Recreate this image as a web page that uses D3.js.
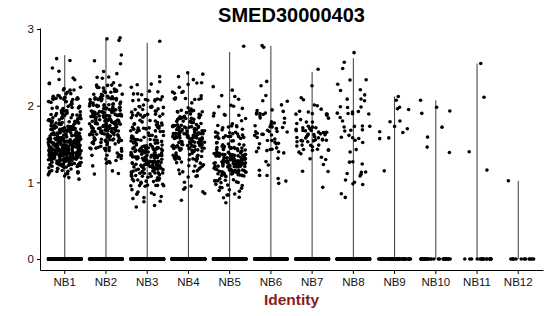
<!DOCTYPE html>
<html>
<head>
<meta charset="utf-8">
<script src="https://cdn.jsdelivr.net/npm/d3@7"></script>
<style>
  html, body { margin: 0; padding: 0; background: #fff; }
  svg { display: block; font-family: "Liberation Sans", Arial, sans-serif; }
</style>
</head>
<body>
<svg id="viz"></svg>
<script>
const WIDTH = 550;
const HEIGHT = 316;

const PANEL = { left: 40, right: 543, top: 28, bottom: 270 };

const groups = ["NB1", "NB2", "NB3", "NB4", "NB5", "NB6", "NB7", "NB8", "NB9", "NB10", "NB11", "NB12"];
const yTicks = [0, 1, 2, 3];

// top of each violin (max expression per cluster)
const groupMax = [2.66, 2.87, 2.82, 2.44, 2.70, 2.78, 2.44, 2.62, 2.12, 2.07, 2.55, 1.02];

// cells with zero expression per cluster (estimated from the band at 0)
const zeroCounts = [300, 300, 300, 300, 300, 260, 260, 260, 60, 32, 18, 12];

// dense clusters NB1..NB8: number of expressing cells per 0.1 bin, starting at binLow
const binWidth = 0.1;
const binLow = [1.0, 1.1, 0.6, 0.7, 0.7, 0.9, 0.9, 0.8];
const binCounts = [
  [4, 16, 44, 70, 76, 62, 42, 26, 20, 17, 14, 10, 7, 3, 2, 1, 1],
  [3, 6, 8, 13, 21, 28, 32, 32, 28, 22, 16, 10, 4, 2, 2, 1, 0, 3],
  [2, 3, 6, 10, 17, 24, 33, 36, 30, 20, 17, 15, 14, 12, 9, 6, 3, 2, 0, 0, 0, 0, 1],
  [1, 2, 3, 4, 7, 10, 17, 27, 34, 30, 24, 15, 10, 7, 6, 4, 2, 2],
  [2, 6, 9, 14, 28, 42, 38, 21, 14, 10, 7, 6, 4, 2, 2, 2, 0, 0, 0, 0, 1],
  [1, 4, 1, 2, 3, 6, 8, 10, 9, 6, 5, 3, 1, 1, 1, 0, 0, 0, 2],
  [1, 0, 2, 2, 4, 10, 14, 14, 8, 7, 4, 2, 1, 1, 0, 1],
  [2, 2, 3, 4, 3, 1, 1, 5, 4, 5, 4, 6, 3, 2, 2, 2, 1, 1, 1]
];

// sparse clusters NB9..NB12: [x offset in band units, expression]
const sparsePoints = [
  [[0.09, 2.12], [0.04, 2.07], [0.12, 1.98], [0.07, 1.96], [0.34, 1.95], [-0.11, 1.79], [0.13, 1.80],
   [0.00, 1.73], [0.31, 1.70], [0.20, 1.65], [-0.36, 1.66], [-0.36, 1.57], [-0.14, 1.58], [-0.25, 1.15]],
  [[-0.37, 2.07], [-0.34, 1.90], [0.02, 1.98], [0.34, 1.93], [0.15, 1.72], [-0.20, 1.59], [-0.21, 1.46], [0.33, 1.39]],
  [[0.09, 2.55], [0.17, 2.11], [-0.19, 1.40], [0.24, 1.16]],
  [[-0.24, 1.02]]
];

const svg = d3.select("#viz").attr("width", WIDTH).attr("height", HEIGHT);

const x = d3.scaleBand()
  .domain(groups)
  .range([PANEL.left, PANEL.right])
  .paddingInner(0)
  .paddingOuter(0.1);

const y = d3.scaleLinear()
  .domain([-0.1435, 3.0135])
  .range([PANEL.bottom, PANEL.top]);

const cx = g => x(g) + x.bandwidth() / 2;
const JITTER = 0.4; // geom_jitter width, in band units

// fixed-seed hash so the jitter is the same on every render
function hash01(n) {
  let t = (n + 0x6D2B79F5) | 0;
  t = Math.imul(t ^ (t >>> 15), t | 1);
  t ^= t + Math.imul(t ^ (t >>> 7), t | 61);
  return ((t ^ (t >>> 14)) >>> 0) / 4294967296;
}

// build point list
const points = [];
let seq = 1;
groups.forEach((g, gi) => {
  for (let k = 0; k < zeroCounts[gi]; k++) {
    points.push({ g, dx: (hash01(seq++) * 2 - 1) * JITTER, v: 0 });
  }
  if (gi < binCounts.length) {
    binCounts[gi].forEach((c, b) => {
      const lo = binLow[gi] + b * binWidth;
      for (let k = 0; k < c; k++) {
        const dx = (hash01(seq++) * 2 - 1) * JITTER;
        points.push({ g, dx, v: lo + hash01(seq++) * binWidth });
      }
    });
  } else {
    sparsePoints[gi - binCounts.length].forEach(([dx, v]) => points.push({ g, dx, v }));
  }
});

// violins (collapsed to thin lines)
svg.append("g").attr("class", "violins")
  .selectAll("line")
  .data(groups)
  .join("line")
  .attr("x1", d => cx(d))
  .attr("x2", d => cx(d))
  .attr("y1", y(0))
  .attr("y2", (d, i) => y(groupMax[i]))
  .attr("stroke", "#3a3a3a")
  .attr("stroke-width", 1);

// jittered cells
svg.append("g").attr("class", "points")
  .selectAll("circle")
  .data(points)
  .join("circle")
  .attr("cx", d => cx(d.g) + d.dx * x.bandwidth())
  .attr("cy", d => y(d.v))
  .attr("r", 1.8)
  .attr("fill", "#000");

// axes
const xAxis = svg.append("g")
  .attr("transform", `translate(0,${PANEL.bottom})`)
  .call(d3.axisBottom(x).tickSize(4).tickSizeOuter(0).tickPadding(4));

const yAxis = svg.append("g")
  .attr("transform", `translate(${PANEL.left},0)`)
  .call(d3.axisLeft(y).tickValues(yTicks).tickFormat(d3.format("d")).tickSize(3).tickSizeOuter(0).tickPadding(3));

[xAxis, yAxis].forEach(a => {
  a.select(".domain").attr("stroke", "#000").attr("stroke-width", 1);
  a.selectAll(".tick line").attr("stroke", "#000");
  a.selectAll(".tick text")
    .attr("font-size", 11.5)
    .attr("font-family", "'Liberation Sans', Arial, sans-serif")
    .attr("fill", "#111");
});

// title
svg.append("text")
  .attr("x", (PANEL.left + PANEL.right) / 2)
  .attr("y", 22)
  .attr("text-anchor", "middle")
  .attr("font-size", 20)
  .attr("font-weight", "bold")
  .attr("fill", "#000")
  .text("SMED30000403");

// x axis title
svg.append("text")
  .attr("x", (PANEL.left + PANEL.right) / 2)
  .attr("y", 305)
  .attr("text-anchor", "middle")
  .attr("font-size", 15.5)
  .attr("font-weight", "bold")
  .attr("fill", "#8b1a1a")
  .text("Identity");
</script>
</body>
</html>
